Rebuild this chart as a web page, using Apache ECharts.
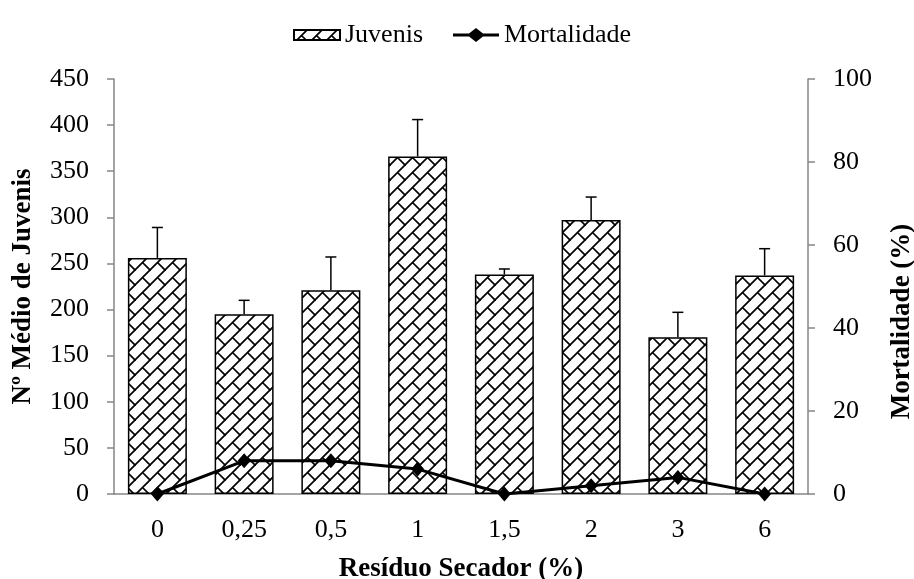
<!DOCTYPE html>
<html>
<head>
<meta charset="utf-8">
<script src="https://cdn.jsdelivr.net/npm/echarts@6/dist/echarts.min.js"></script>
<style>
  html, body { margin: 0; padding: 0; background: #ffffff; }
  #chart { width: 914px; height: 579px; }
</style>
</head>
<body>
<div id="chart"></div>
<script>
// Dose levels of dryer residue and measured responses
const categories = ['0', '0,25', '0,5', '1', '1,5', '2', '3', '6'];
const juvenis = [256, 195, 221, 366, 238, 297, 170, 237];
const juvenisErr = [33, 15, 36, 40, 6, 25, 27, 29];
const mortalidade = [0, 8, 8, 6, 0, 2, 4, 0];

const FONT = 'Liberation Serif';
const AXIS_GRAY = '#868686';

// Diagonal brick fill for the bars
function brickPattern(size) {
  const c = document.createElement('canvas');
  c.width = size; c.height = size;
  const g = c.getContext('2d');
  g.fillStyle = '#ffffff';
  g.fillRect(0, 0, size, size);
  g.strokeStyle = '#000000';
  g.lineWidth = 1.7;
  g.lineCap = 'round';
  const h = size / 2;
  for (let dx = -size; dx <= size; dx += size) {
    for (let dy = -size; dy <= size; dy += size) {
      g.beginPath();
      g.moveTo(dx, dy + size);
      g.lineTo(dx + size, dy);
      g.moveTo(dx + h, dy + h);
      g.lineTo(dx + size, dy + size);
      g.stroke();
    }
  }
  return c;
}
const pattern = { image: brickPattern(15), repeat: 'repeat' };

// Legend glyphs: a flat box for the bars, a line through a diamond for the curve
const BAR_ICON = 'path://M0,0H46V10H0Z';
const LINE_ICON = 'path://M0,5.5H16L23,0L30,5.5H46V8.5H30L23,14L16,8.5H0Z';

const chart = echarts.init(document.getElementById('chart'), null, { renderer: 'canvas' });

const option = {
  animation: false,
  backgroundColor: '#ffffff',
  textStyle: { fontFamily: FONT, color: '#000' },
  grid: { left: 114, right: 106, top: 79, bottom: 85, containLabel: false, outerBoundsMode: 'none' },
  legend: {
    top: 17,
    left: 288,
    itemWidth: 46,
    itemHeight: 14,
    itemGap: 30,
    symbolKeepAspect: true,
    textStyle: { fontFamily: FONT, fontSize: 26, color: '#000' },
    data: [
      { name: 'Juvenis', icon: BAR_ICON },
      { name: 'Mortalidade', icon: LINE_ICON, itemStyle: { color: '#000', borderWidth: 0 } }
    ]
  },
  xAxis: {
    type: 'category',
    data: categories,
    axisLine: { lineStyle: { color: AXIS_GRAY, width: 1.5 } },
    axisTick: { length: 7, lineStyle: { color: AXIS_GRAY, width: 1.5 } },
    axisLabel: { fontFamily: FONT, fontSize: 26, color: '#000', margin: 23 },
    name: 'Resíduo Secador (%)',
    nameLocation: 'middle',
    nameGap: 62,
    nameTextStyle: { fontFamily: FONT, fontSize: 27, fontWeight: 'bold', color: '#000' }
  },
  yAxis: [
    {
      type: 'value',
      min: 0, max: 450, interval: 50,
      splitLine: { show: false },
      axisLine: { show: true, lineStyle: { color: AXIS_GRAY, width: 1.5 } },
      axisTick: { show: true, length: 7, lineStyle: { color: AXIS_GRAY, width: 1.5 } },
      axisLabel: { fontFamily: FONT, fontSize: 26, color: '#000', margin: 25 },
      name: 'Nº Médio de Juvenis',
      nameLocation: 'middle',
      nameRotate: 90,
      nameGap: 77,
      nameTextStyle: { fontFamily: FONT, fontSize: 27, fontWeight: 'bold', color: '#000' }
    },
    {
      type: 'value',
      position: 'right',
      min: 0, max: 100, interval: 20,
      splitLine: { show: false },
      axisLine: { show: true, lineStyle: { color: AXIS_GRAY, width: 1.5 } },
      axisTick: { show: true, length: 7, lineStyle: { color: AXIS_GRAY, width: 1.5 } },
      axisLabel: { fontFamily: FONT, fontSize: 26, color: '#000', margin: 25 },
      name: 'Mortalidade (%)',
      nameLocation: 'middle',
      nameRotate: 90,
      nameGap: 81,
      nameTextStyle: { fontFamily: FONT, fontSize: 27, fontWeight: 'bold', color: '#000', padding: [0, 70, 0, 0] }
    }
  ],
  series: [
    {
      name: 'Juvenis',
      type: 'bar',
      yAxisIndex: 0,
      data: juvenis,
      barWidth: '68%',
      itemStyle: { color: pattern, borderColor: '#000', borderWidth: 1.5 },
      z: 2
    },
    {
      name: 'erro',
      type: 'custom',
      yAxisIndex: 0,
      data: juvenis.map((v, i) => [i, v, v + juvenisErr[i]]),
      renderItem: function (params, api) {
        const base = api.coord([api.value(0), api.value(1)]);
        const top = api.coord([api.value(0), api.value(2)]);
        const cap = 5.5;
        return {
          type: 'group',
          children: [
            { type: 'line', shape: { x1: base[0], y1: base[1], x2: top[0], y2: top[1] },
              style: { stroke: '#000', lineWidth: 1.5 } },
            { type: 'line', shape: { x1: top[0] - cap, y1: top[1], x2: top[0] + cap, y2: top[1] },
              style: { stroke: '#000', lineWidth: 1.5 } }
          ]
        };
      },
      z: 3
    },
    {
      name: 'Mortalidade',
      type: 'line',
      yAxisIndex: 1,
      data: mortalidade,
      symbol: 'diamond',
      symbolSize: [13, 15],
      lineStyle: { color: '#000', width: 3 },
      itemStyle: { color: '#000' },
      z: 4
    }
  ]
};

chart.setOption(option);
</script>
</body>
</html>
